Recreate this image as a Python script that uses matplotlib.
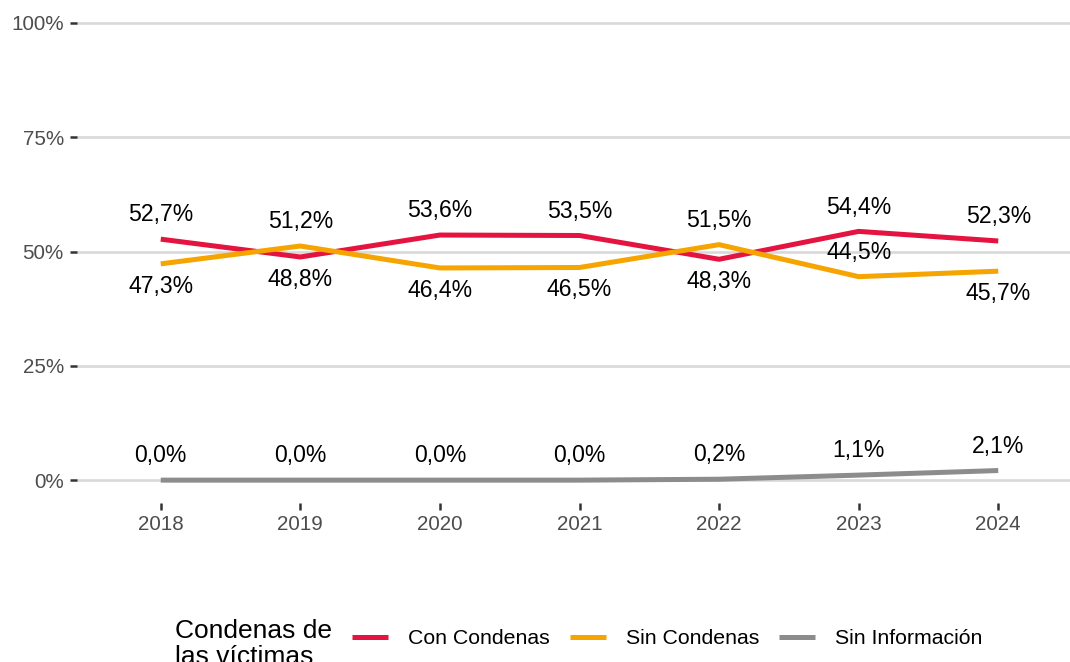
import matplotlib
matplotlib.use("Agg")
import matplotlib.pyplot as plt
from matplotlib.lines import Line2D

plt.rcParams['font.family'] = ['Liberation Sans', 'DejaVu Sans']

years = [2018, 2019, 2020, 2021, 2022, 2023, 2024]
con_condenas = [52.7, 48.8, 53.6, 53.5, 48.3, 54.4, 52.3]
sin_condenas = [47.3, 51.2, 46.4, 46.5, 51.5, 44.5, 45.7]
sin_info = [0.0, 0.0, 0.0, 0.0, 0.2, 1.1, 2.1]
series_names = ["Con Condenas", "Sin Condenas", "Sin Información"]
colors = ["#E4133F", "#F5A400", "#8C8C8C"]
y_ticks = [0, 25, 50, 75, 100]
y_labels = ["0%", "25%", "50%", "75%", "100%"]

fig = plt.figure(figsize=(10.70, 6.62), dpi=100)
W, H = 1070, 662
# panel spans px 77..1082 horizontally, 0..503 vertically (right side cropped)
ax = fig.add_axes([77 / W, 1 - 503 / H, (1082 - 77) / W, 503 / H])
ax.set_xlim(2017.4, 2024.6)
ax.set_ylim(-5, 105)

for y in y_ticks:
    ax.axhline(y, color="#D9D9D9", lw=1.9, zorder=0)

all_series = [con_condenas, sin_condenas, sin_info]
for vals, c in zip(all_series, colors):
    ax.plot(years, vals, color=c, lw=3.6, solid_capstyle="butt", zorder=2)

# +1 label above point, -1 below
sides = [
    [1, -1, 1, 1, -1, 1, 1],
    [-1, 1, -1, -1, 1, 1, -1],
    [1, 1, 1, 1, 1, 1, 1],
]
for vals, side in zip(all_series, sides):
    for x, v, s in zip(years, vals, side):
        txt = f"{v:.1f}%".replace(".", ",")
        off = 17.5 if s > 0 else -16
        ax.annotate(txt, (x, v), xytext=(0, off), textcoords="offset points",
                    ha="center", va="center", fontsize=16.6, color="black")

ax.set_xticks(years)
ax.set_xticklabels([str(y) for y in years])
ax.set_yticks(y_ticks)
ax.set_yticklabels(y_labels)
ax.tick_params(axis="both", colors="#333333", labelcolor="#4D4D4D",
               labelsize=14.9, length=5, width=1.8)
ax.tick_params(axis="y", pad=4.5)
ax.tick_params(axis="x", pad=4)
for sp in ax.spines.values():
    sp.set_visible(False)

# legend
handles = [Line2D([0], [0], color=c, lw=3.6, solid_capstyle="butt") for c in colors]
fig.legend(handles, series_names, loc="center left",
           bbox_to_anchor=(352 / W, 1 - 639 / H), ncol=3, frameon=False,
           fontsize=15.3, handlelength=1.69, handletextpad=0.94,
           columnspacing=0.94, borderpad=0, borderaxespad=0)
fig.text(175 / W, 1 - 644 / H, "Condenas de\nlas víctimas", fontsize=19,
         ha="left", va="center", linespacing=1.15)

fig.savefig("out.png", dpi=100)
